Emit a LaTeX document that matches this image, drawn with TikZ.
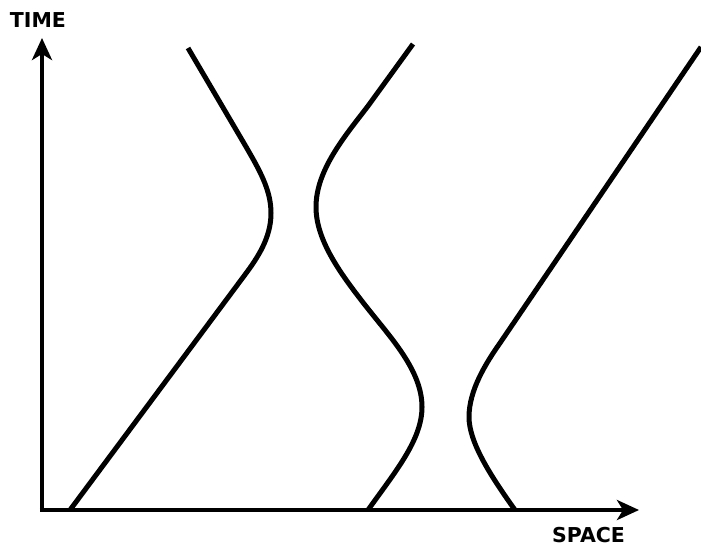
\documentclass[tikz,border=0pt]{standalone}
\usepackage{fontspec}
\newfontfamily\labelfont{DejaVu Sans}
\usetikzlibrary{arrows.meta}
\tikzset{
  axisline/.style={line width=4.5pt, -{Stealth[length=22pt,width=20pt,inset=6pt]}},
  worldline/.style={line width=5pt, line cap=butt, line join=round},
  axislabel/.style={inner sep=0pt, font=\labelfont\bfseries\fontsize{20.5}{24}\selectfont}
}
\begin{document}
\begin{tikzpicture}[x=1pt,y=-1pt]
\useasboundingbox (0,0) rectangle (701,547);
\coordinate (origin) at (42,510);
\coordinate (ttip) at (42,38);
\coordinate (stip) at (639,510);
\draw[axisline] (origin) -- (ttip);
\draw[axisline] ([xshift=-2.25pt]origin) -- (stip);
\node[axislabel] (timelabel) at (38,20) {TIME};
\node[axislabel] (spacelabel) at (588.5,535) {SPACE};
% left world line
\draw[worldline] (188,48) -- (245,145)
  .. controls (259.5,170) and (271,190) .. (271,213)
  .. controls (271,238) and (257.5,258) .. (244,276)
  -- (70,510);
% middle world line
\draw[worldline] (413,44) -- (368,106)
  .. controls (345,136) and (316,170) .. (316,207)
  .. controls (316,240) and (340,273) .. (365,305)
  .. controls (390,337) and (422,370) .. (422,407)
  .. controls (422,440) and (395,472) .. (368,510);
% right world line
\draw[worldline] (701,47) -- (500,343)
  .. controls (486,363) and (469,390) .. (469,417)
  .. controls (469,442) and (490,475) .. (515,510);
\end{tikzpicture}
\end{document}
